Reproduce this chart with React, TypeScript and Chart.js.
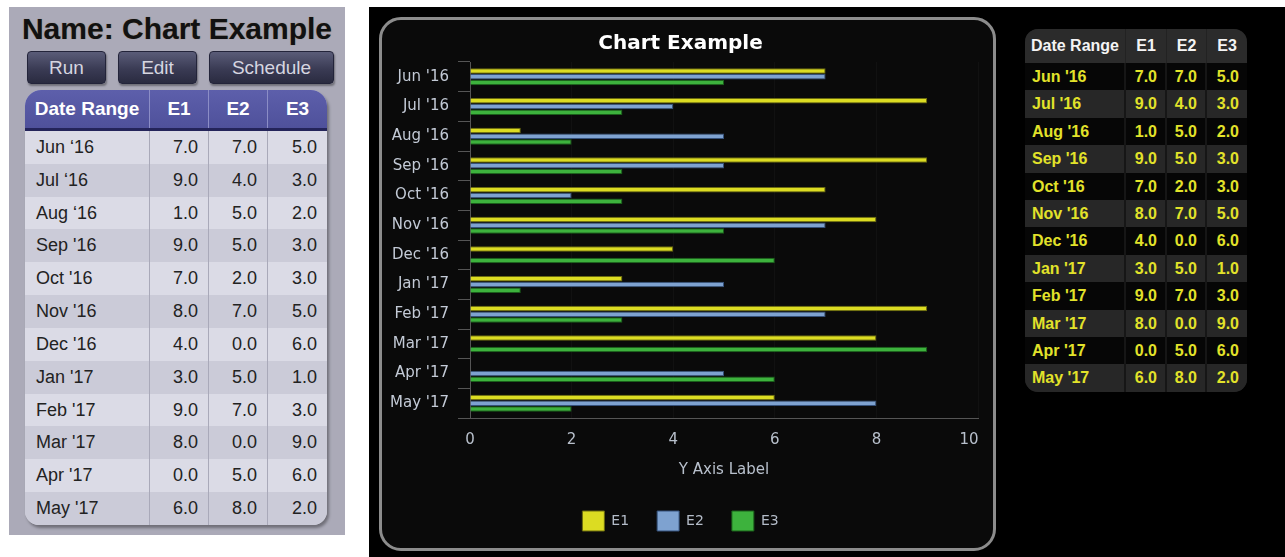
import React, { useEffect, useRef } from 'react';
import { Chart, registerables } from 'chart.js';

Chart.register(...registerables);

// ---------- data ----------
const categories = ["Jun '16", "Jul '16", "Aug '16", "Sep '16", "Oct '16", "Nov '16", "Dec '16", "Jan '17", "Feb '17", "Mar '17", "Apr '17", "May '17"];
const leftTableDates = ["Jun \u201816", "Jul \u201816", "Aug \u201816", "Sep '16", "Oct '16", "Nov '16", "Dec '16", "Jan '17", "Feb '17", "Mar '17", "Apr '17", "May '17"];
const seriesNames = ['E1', 'E2', 'E3'];
const e1Values = [7, 9, 1, 9, 7, 8, 4, 3, 9, 8, 0, 6];
const e2Values = [7, 4, 5, 5, 2, 7, 0, 5, 7, 0, 5, 8];
const e3Values = [5, 3, 2, 3, 3, 5, 6, 1, 3, 9, 6, 2];
const tableHeaders = ['Date Range', 'E1', 'E2', 'E3'];
const buttonLabels = ['Run', 'Edit', 'Schedule'];
const panelTitle = 'Name: Chart Example';
const chartTitle = 'Chart Example';
const xAxisTitle = 'Y Axis Label';
const xMin = 0;
const xMax = 10;
const xStep = 2;

const seriesValues = [e1Values, e2Values, e3Values];
const fill = ['#dcdc22', '#7ea2d0', '#3db23d'];
const stroke = ['#6a6a10', '#34507a', '#1a5e1a'];

const SANS = '"Liberation Sans", Arial, sans-serif';

function BarChart() {
  const ref = useRef<HTMLCanvasElement>(null);
  useEffect(() => {
    const labelColor = '#c3cad6';
    const tickFont = { family: 'DejaVu Sans', size: 15 };
    const chart = new Chart(ref.current as HTMLCanvasElement, {
      type: 'bar',
      data: {
        labels: categories,
        datasets: seriesNames.map((name, i) => ({
          label: name,
          data: seriesValues[i],
          backgroundColor: fill[i],
          borderColor: stroke[i],
          borderWidth: 1,
          categoryPercentage: 0.58,
          barPercentage: 0.95,
        })),
      },
      options: {
        indexAxis: 'y',
        animation: false,
        responsive: false,
        devicePixelRatio: 1,
        layout: { padding: { top: 11, right: 19, bottom: 6, left: 0 } },
        plugins: {
          title: {
            display: true,
            text: chartTitle,
            color: '#ffffff',
            font: { family: 'DejaVu Sans', size: 20, weight: 'bold' },
            padding: { top: 0, bottom: 6 },
          },
          legend: {
            position: 'bottom',
            labels: {
              boxWidth: 22,
              boxHeight: 20,
              padding: 28,
              color: '#b4bcc8',
              font: { family: 'DejaVu Sans', size: 14 },
            },
          },
          tooltip: { enabled: false },
        },
        scales: {
          y: {
            grid: {
              display: true,
              drawOnChartArea: false,
              drawTicks: true,
              tickLength: 12,
              color: '#555555',
              offset: true,
            },
            border: { display: true, color: '#555555' },
            ticks: { color: labelColor, font: tickFont, padding: 9 },
            afterFit: (s: any) => { s.width = 87; },
          },
          x: {
            min: xMin,
            max: xMax,
            grid: { color: 'rgba(255,255,255,0.03)', drawTicks: false },
            border: { display: true, color: '#555555' },
            ticks: {
              stepSize: xStep,
              color: '#b8c0cc',
              font: tickFont,
              padding: 13,
              // last label sits inside the axis end
              callback: (v: any) => (Number(v) === xMax ? String(v) + '\u2003\u2009' : String(v)),
            },
            title: {
              display: true,
              text: xAxisTitle,
              color: '#b8c0cc',
              font: tickFont,
              padding: { top: 12, bottom: 4 },
            },
            afterFit: (s: any) => {
              s.height = 65;
              s.paddingLeft = 0;
              s.paddingRight = 0;
            },
          },
        },
      },
    } as any);
    return () => chart.destroy();
  }, []);
  return (
    <canvas
      ref={ref}
      width={614}
      height={526}
      style={{ position: 'absolute', left: 383, top: 21, width: 614, height: 526 }}
    />
  );
}

function LeftPanel() {
  const cols = [125, 59, 59, 59];
  const rowH = 394 / 12;
  const btns = [
    { left: 27, width: 79 },
    { left: 118, width: 79 },
    { left: 209, width: 125 },
  ];
  return (
    <>
      <div style={{ position: 'absolute', left: 9, top: 7, width: 336, height: 528, background: '#abaab8' }} />
      <div
        style={{
          position: 'absolute', left: 9, top: 12, width: 336, textAlign: 'center',
          font: `bold 30px ${SANS}`, lineHeight: '34px', color: '#111',
          textShadow: '0 0 1px rgba(120,80,0,0.5)',
        }}
      >
        {panelTitle}
      </div>
      {buttonLabels.map((b, i) => (
        <div
          key={b}
          style={{
            position: 'absolute', left: btns[i].left, top: 51, width: btns[i].width, height: 33,
            boxSizing: 'border-box', borderRadius: 4, border: '1px solid #23243a',
            background: 'linear-gradient(#5a5c78, #3a3b54 55%, #2a2b40)',
            color: '#d6d6e0', font: `19px ${SANS}`, lineHeight: '31px', textAlign: 'center',
            boxShadow: '1px 2px 2px rgba(0,0,0,0.35)',
          }}
        >
          {b}
        </div>
      ))}
      <div
        style={{
          position: 'absolute', left: 25, top: 90, width: 302, height: 435,
          borderRadius: '16px 16px 14px 14px', overflow: 'hidden',
          boxShadow: '2px 3px 3px rgba(0,0,0,0.35)', background: '#d4d4e0',
        }}
      >
        <div style={{ display: 'flex', height: 38, background: 'linear-gradient(#5d5fab, #4f519b)', borderBottom: '3px solid #24245a' }}>
          {tableHeaders.map((h, i) => (
            <div
              key={h}
              style={{
                width: cols[i], boxSizing: 'border-box', textAlign: 'center', color: '#fff',
                font: `bold 19px ${SANS}`, lineHeight: '38px',
                borderRight: i < 3 ? '1px solid #8b8dc6' : 'none',
              }}
            >
              {h}
            </div>
          ))}
        </div>
        {leftTableDates.map((d, r) => (
          <div key={d} style={{ display: 'flex', height: rowH, background: r % 2 === 0 ? '#dbdbe6' : '#cbcbd8' }}>
            {[d, ...seriesValues.map((s) => s[r].toFixed(1))].map((t, i) => (
              <div
                key={i}
                style={{
                  width: cols[i], boxSizing: 'border-box', color: '#222',
                  font: `18px ${SANS}`, lineHeight: `${rowH}px`,
                  textAlign: i === 0 ? 'left' : 'right',
                  paddingLeft: i === 0 ? 11 : 0, paddingRight: i === 0 ? 0 : 10,
                  borderRight: i < 3 ? '1px solid #a9a9b9' : 'none',
                }}
              >
                {t}
              </div>
            ))}
          </div>
        ))}
      </div>
    </>
  );
}

function RightTable() {
  const cols = [101, 41, 40, 40];
  const rowH = 329 / 12;
  return (
    <div
      style={{
        position: 'absolute', left: 1025, top: 29, width: 222, height: 363,
        borderRadius: 13, overflow: 'hidden', background: '#1a1a1a',
      }}
    >
      <div style={{ display: 'flex', height: 34, background: '#2b2b2b' }}>
        {tableHeaders.map((h, i) => (
          <div
            key={h}
            style={{
              width: cols[i], boxSizing: 'border-box', textAlign: 'center', color: '#f4f4f4',
              font: `bold 16px ${SANS}`, lineHeight: '34px',
              borderRight: i < 3 ? '1px solid #222' : 'none',
            }}
          >
            {h}
          </div>
        ))}
      </div>
      {categories.map((d, r) => (
        <div key={d} style={{ display: 'flex', height: rowH }}>
          {[d, ...seriesValues.map((s) => s[r].toFixed(1))].map((t, i) => (
            <div
              key={i}
              style={{
                width: cols[i], boxSizing: 'border-box', color: '#e2e22a',
                background: r % 2 === 0 ? '#060606' : '#272727',
                font: `bold 16px ${SANS}`, lineHeight: `${rowH}px`,
                textAlign: i === 0 ? 'left' : 'right',
                paddingLeft: i === 0 ? 7 : 0, paddingRight: i === 0 ? 0 : 8,
                borderRight: i < 3 ? '2px solid #161616' : 'none',
              }}
            >
              {t}
            </div>
          ))}
        </div>
      ))}
    </div>
  );
}

export default function App() {
  return (
    <div style={{ position: 'fixed', left: 0, top: 0, width: 1285, height: 557, background: '#ffffff', overflow: 'hidden' }}>
      <LeftPanel />
      <div style={{ position: 'absolute', left: 369, top: 7, width: 916, height: 550, background: '#000' }} />
      <div
        style={{
          position: 'absolute', left: 379, top: 17, width: 617, height: 534, boxSizing: 'border-box',
          border: '3px solid #8c8c8c', borderRadius: 22, background: '#0a0a0a',
        }}
      />
      <BarChart />
      <RightTable />
    </div>
  );
}
